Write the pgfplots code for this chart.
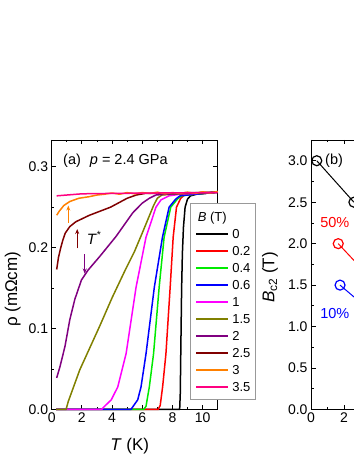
\documentclass[border=0pt]{standalone}
\usepackage{fontspec}
\setmainfont{Liberation Sans}
\usepackage{pgfplots}
\pgfplotsset{compat=1.18}
\usetikzlibrary{arrows.meta}

\definecolor{cBa}{RGB}{0,0,0}
\definecolor{cBb}{RGB}{255,0,0}
\definecolor{cBc}{RGB}{0,235,0}
\definecolor{cBd}{RGB}{0,0,255}
\definecolor{cBe}{RGB}{255,0,255}
\definecolor{cBf}{RGB}{128,128,0}
\definecolor{cBg}{RGB}{128,0,128}
\definecolor{cBh}{RGB}{128,0,0}
\definecolor{cBi}{RGB}{255,128,0}
\definecolor{cBj}{RGB}{255,0,128}

\newcommand\labfont{\fontsize{17}{19}\selectfont}
\newcommand\txtfont{\fontsize{14.5}{17}\selectfont}

\pgfplotsset{
  panel/.style={
    scale only axis,
    clip=false,
    axis line style={line width=0.8pt},
    tick style={line width=0.8pt, black},
    major tick length=4.5pt,
    minor tick length=2.5pt,
    tick align=inside,
    ticklabel style={font=\fontsize{14}{16}\selectfont},
    /pgf/number format/assume math mode=true,
    minor x tick num=1,
    minor y tick num=1,
  },
  rcurve/.style={line width=1.5pt, line join=round},
}

\begin{document}
\begin{tikzpicture}
\path[draw=white] (0,0) rectangle (353pt,457pt);

% ---------- (a) rho(T) ----------
\begin{axis}[
  panel,
  at={(51.7pt,47.5pt)}, anchor=south west,
  width=166pt, height=269.5pt,
  xmin=0, xmax=11, ymin=0, ymax=0.333,
  xtick={0,2,...,10},
  ytick={0,0.1,0.2,0.3},
  yticklabel style={/pgf/number format/.cd, fixed, fixed zerofill, precision=1},
  xlabel={\textit{T} (K)},
  ylabel={ρ (mΩcm)},
  every axis x label/.style={at={(axis description cs:0.47,-0.135)}, anchor=center, font=\labfont},
  every axis y label/.style={at={(axis description cs:-0.235,0.446)}, anchor=center, rotate=90, font=\labfont},
  legend cell align=left,
  legend image code/.code={\draw[#1, line width=2pt] (0pt,0pt) -- (32pt,0pt);},
  legend style={at={(0.833,0.035)}, anchor=south west,
    draw=gray!80, line width=0.6pt, fill=white,
    inner xsep=5pt, inner ysep=4.5pt, column sep=3pt, row sep=0pt,
    font=\fontsize{13}{15}\selectfont,
    nodes={inner sep=0pt, text height=13.15pt, text depth=3.85pt}},
]
\addlegendimage{empty legend}
\addlegendentry{\makebox[0pt][l]{\hspace{-35pt}\textit{B} (T)}}

\addplot[rcurve, cBa] coordinates {
 (0.3,0) (8.48,0) (8.52,0.02) (8.56,0.08) (8.61,0.15) (8.66,0.193) (8.73,0.225)
 (8.84,0.25) (9.0,0.26) (9.2,0.264) (9.6,0.266) (11,0.2685)};
\addlegendentry{0}
\addplot[rcurve, cBb] coordinates {
 (0.3,0) (7.05,0) (7.19,0.005) (7.35,0.028) (7.57,0.069) (7.85,0.151) (8.05,0.213)
 (8.27,0.25) (8.55,0.261) (8.8,0.265) (9.5,0.266) (11,0.2685)};
\addlegendentry{0.2}
\addplot[rcurve, cBc] coordinates {
 (0.3,0) (6.1,0) (6.25,0.004) (6.47,0.028) (6.75,0.069) (7.12,0.151) (7.45,0.213)
 (7.89,0.25) (8.33,0.26) (8.6,0.264) (9.5,0.266) (11,0.2685)};
\addlegendentry{0.4}
\addplot[rcurve, cBd] coordinates {
 (0.3,0) (5.25,0) (5.4,0.004) (5.7,0.012) (5.92,0.028) (6.25,0.069) (6.8,0.151)
 (7.34,0.213) (7.78,0.25) (8.22,0.26) (8.5,0.264) (9.5,0.266) (11,0.2685)};
\addlegendentry{0.6}
\addplot[rcurve, cBe] coordinates {
 (0.3,0) (3.3,0) (3.45,0.003) (3.95,0.012) (4.38,0.028) (4.93,0.069) (5.59,0.151)
 (6.25,0.213) (6.91,0.25) (7.24,0.259) (7.78,0.264) (8.5,0.266) (11,0.2685)};
\addlegendentry{1}
\addplot[rcurve, cBf] coordinates {
 (0.3,0) (0.95,0) (1.1,0.01) (1.86,0.049) (3.18,0.103) (4.0,0.138) (4.89,0.173)
 (5.48,0.195) (6.0,0.218) (6.42,0.237) (6.75,0.252) (7.0,0.261) (7.3,0.265)
 (8,0.266) (11,0.2685)};
\addlegendentry{1.5}
\addplot[rcurve, cBg] coordinates {
 (0.33,0.039) (0.55,0.053) (0.88,0.078) (1.2,0.111) (1.53,0.136) (1.97,0.16)
 (2.4,0.172) (3.18,0.189) (4.27,0.214) (5.37,0.243) (6.0,0.255) (6.47,0.261)
 (6.9,0.265) (7.5,0.266) (11,0.2685)};
\addlegendentry{2}
\addplot[rcurve, cBh] coordinates {
 (0.33,0.173) (0.45,0.188) (0.6,0.2) (0.75,0.21) (0.9,0.218) (1.2,0.226)
 (1.6,0.232) (2.5,0.24) (3.2,0.245) (3.9,0.25) (4.5,0.256) (5.0,0.261)
 (5.6,0.265) (6.2,0.267) (11,0.2685)};
\addlegendentry{2.5}
\addplot[rcurve, cBi] coordinates {
 (0.33,0.24) (0.5,0.245) (0.8,0.252) (1.2,0.257) (1.8,0.261) (2.5,0.263)
 (3.0,0.265) (3.5,0.266) (4,0.2675) (4.5,0.266) (5,0.268) (5.5,0.2665)
 (6,0.268) (6.5,0.267) (7,0.2685) (7.5,0.2665) (8,0.268) (8.5,0.267)
 (9,0.2685) (9.5,0.267) (10,0.269) (10.5,0.2675) (11,0.2695)};
\addlegendentry{3}
\addplot[rcurve, cBj] coordinates {
 (0.33,0.264) (1,0.265) (2,0.2665) (4,0.267) (7,0.2675) (11,0.268)};
\addlegendentry{3.5}

\draw[cBh, line width=1.1pt, -{Stealth[length=5pt,width=4pt]}]
  (axis cs:1.69,0.199) -- (axis cs:1.69,0.223);
\draw[cBg, line width=1.1pt, -{Stealth[length=5pt,width=4pt]}]
  (axis cs:2.19,0.192) -- (axis cs:2.19,0.168);
\draw[cBi, line width=1.1pt, -{Stealth[length=5pt,width=4pt]}]
  (axis cs:1.1,0.231) -- (axis cs:1.1,0.252);
\node[anchor=west, inner sep=0pt, font=\fontsize{15}{17}\selectfont]
  at (axis cs:2.32,0.212) {\textit{T}\textsuperscript{*}};
\node[anchor=west, inner sep=0pt, font=\txtfont]
  at (rel axis cs:0.068,0.924) {(a)\hspace{9pt}\textit{p} = 2.4 GPa};
\end{axis}

% ---------- (b) Bc2(T), cut at the right edge ----------
\begin{axis}[
  panel,
  at={(311pt,47.5pt)}, anchor=south west,
  width=165pt, height=269.5pt,
  xmin=0, xmax=10, ymin=0, ymax=3.25,
  xtick={0,2},
  ytick={0,0.5,...,3.0},
  yticklabel style={/pgf/number format/.cd, fixed, fixed zerofill, precision=1},
  ylabel={\textit{B}\textsubscript{c2} (T)},
  every axis y label/.style={at={(axis description cs:-0.248,0.49)}, anchor=center, rotate=90, font=\labfont},
]
\addplot[black, line width=1pt, mark=o, mark size=5pt,
  mark options={line width=1.2pt, fill=white}] coordinates {(0.35,3.0) (2.6,2.5)};
\addplot[red, line width=1pt, mark=o, mark size=5pt,
  mark options={line width=1.2pt, fill=white}] coordinates {(1.65,2.0) (3.3,1.65)};
\addplot[blue, line width=1pt, mark=o, mark size=5pt,
  mark options={line width=1.2pt, fill=white}] coordinates {(1.76,1.5) (3.3,1.24)};
\node[anchor=west, inner sep=0pt, font=\txtfont]
  at (rel axis cs:0.085,0.924) {(b)};
\node[anchor=west, inner sep=0pt, text=red, font=\txtfont]
  at (axis cs:0.55,2.25) {50\%};
\node[anchor=west, inner sep=0pt, text=blue, font=\txtfont]
  at (axis cs:0.55,1.16) {10\%};
\end{axis}

\pgfresetboundingbox
\path[use as bounding box] (0,0) rectangle (353pt,457pt);
\end{tikzpicture}
\end{document}
